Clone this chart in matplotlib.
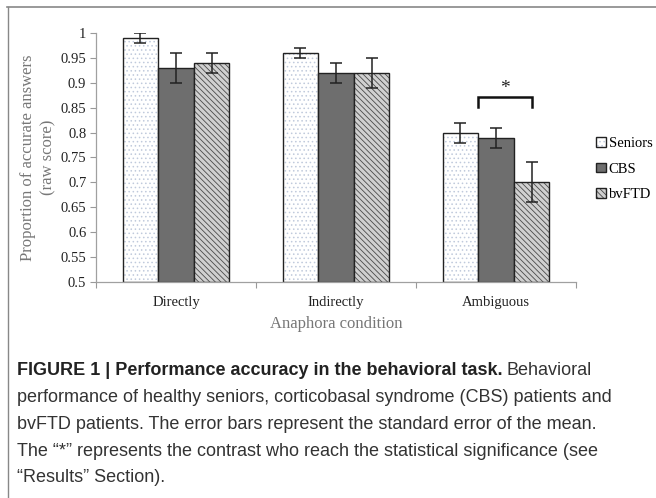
import matplotlib
matplotlib.use("Agg")
import matplotlib.pyplot as plt
import numpy as np
from matplotlib.lines import Line2D

categories = ["Directly", "Indirectly", "Ambiguous"]
groups = ["Seniors", "CBS", "bvFTD"]
seniors = [0.99, 0.96, 0.80]
seniors_err = [0.01, 0.01, 0.02]
cbs = [0.93, 0.92, 0.79]
cbs_err = [0.03, 0.02, 0.02]
bvftd = [0.94, 0.92, 0.70]
bvftd_err = [0.02, 0.03, 0.04]
yticks = [0.5, 0.55, 0.6, 0.65, 0.7, 0.75, 0.8, 0.85, 0.9, 0.95, 1.0]
ytick_labels = ["0.5", "0.55", "0.6", "0.65", "0.7", "0.75", "0.8", "0.85", "0.9", "0.95", "1"]

plt.rcParams['hatch.linewidth'] = 0.6
serif = ["Liberation Serif", "DejaVu Serif"]
sans = ["Liberation Sans", "DejaVu Sans"]

fig = plt.figure(figsize=(6.56, 4.98), dpi=100)
ax = fig.add_axes([96/656, 1-282/498, 480/656, 249/498])

x = np.arange(len(categories))
w = 0.222
styles = [
    dict(facecolor="white", hatch="....", hatchcolor="#c0cadc"),
    dict(facecolor="#6e6e6e", hatch=None, hatchcolor=None),
    dict(facecolor="#d0d0d0", hatch="\\\\\\\\\\\\", hatchcolor="#4a4a4a"),
]
data = [(seniors, seniors_err), (cbs, cbs_err), (bvftd, bvftd_err)]
handles = []
for i, ((vals, errs), st) in enumerate(zip(data, styles)):
    pos = x + (i - 1) * w
    bars = ax.bar(pos, np.array(vals) - 0.5, bottom=0.5, width=w,
                  facecolor=st["facecolor"], edgecolor="#222222", linewidth=1.0,
                  zorder=2)
    if st["hatch"]:
        for b in bars:
            b.set_hatch(st["hatch"])
            b._hatch_color = matplotlib.colors.to_rgba(st["hatchcolor"])
    ax.errorbar(pos, vals, yerr=errs, fmt="none", ecolor="#222222",
                elinewidth=1.1, capsize=4, capthick=1.1, zorder=3)
    handles.append(bars[0])

# significance bracket
bx0 = x[2] - w / 2
bx1 = x[2] + w
ax.plot([bx0, bx0, bx1, bx1], [0.852, 0.872, 0.872, 0.852], color="#111111", lw=1.8,
        solid_joinstyle="miter", zorder=4, clip_on=False)
ax.text((bx0 + bx1) / 2, 0.889, "*", ha="center", va="center", fontsize=14,
        family=serif, color="#222222")

ax.set_xlim(-0.5, 2.5)
ax.set_ylim(0.5, 1.0)
ax.set_yticks(yticks)
ax.set_yticklabels(ytick_labels, family=serif, fontsize=10.5, color="#222222")
ax.set_xticks(x)
ax.set_xticklabels(categories, family=serif, fontsize=10.5, color="#222222")
ax.set_xticks([-0.5, 0.5, 1.5, 2.5], minor=True)
ax.tick_params(axis="x", which="major", length=0, pad=10)
ax.tick_params(axis="x", which="minor", length=4, color="#999999", width=0.8, direction="out")
ax.tick_params(axis="y", length=4, color="#999999", width=0.8, direction="out", pad=3)
for s in ["top", "right"]:
    ax.spines[s].set_visible(False)
for s in ["left", "bottom"]:
    ax.spines[s].set_color("#a0a0a0")
    ax.spines[s].set_linewidth(0.9)
ax.set_ylabel("Proportion of accurate answers\n(raw score)", family=serif,
              fontsize=12, color="#777777", linespacing=1.4)
ax.yaxis.set_label_coords(-0.082, 0.5)
ax.set_xlabel("Anaphora condition", family=serif, fontsize=12, color="#777777", labelpad=5)

leg = fig.legend(handles, groups, loc="upper left", bbox_to_anchor=(589/656, 1-130/498),
                 frameon=False, prop={"family": serif, "size": 10.5},
                 handlelength=0.65, handleheight=0.65, handletextpad=0.2,
                 labelspacing=0.85, borderpad=0)

# frame lines
fig.add_artist(Line2D([7/656, 1], [1-7.5/498, 1-7.5/498], color="#888888", lw=1.2,
                      transform=fig.transFigure))
fig.add_artist(Line2D([7.5/656, 7.5/656], [0, 1-7.5/498], color="#888888", lw=1.0,
                      transform=fig.transFigure))

# caption
cap_x = 17 / 656
line_ys = [370, 397, 424, 451, 478]
lines = [
    "performance of healthy seniors, corticobasal syndrome (CBS) patients and",
    "bvFTD patients. The error bars represent the standard error of the mean.",
    "The \u201c*\u201d represents the contrast who reach the statistical significance (see",
    "\u201cResults\u201d Section).",
]
fig.canvas.draw()
r = fig.canvas.get_renderer()
probe = fig.text(0, 0, lines[0], family=sans, fontsize=10)
pw = probe.get_window_extent(r).width
probe.remove()
fs = 10 * 599 / pw

bold = fig.text(cap_x, 1 - line_ys[0] / 498, "FIGURE 1 | Performance accuracy in the behavioral task.",
                family=sans, weight="bold", fontsize=fs, color="#222222", va="center")
bb = bold.get_window_extent(r)
fig.text((bb.x1 + 4) / 656, 1 - line_ys[0] / 498, "Behavioral", family=sans,
         fontsize=fs, color="#333333", va="center")
for yy, t in zip(line_ys[1:], lines):
    fig.text(cap_x, 1 - yy / 498, t, family=sans, fontsize=fs, color="#333333", va="center")

fig.savefig("out.png", dpi=100)
